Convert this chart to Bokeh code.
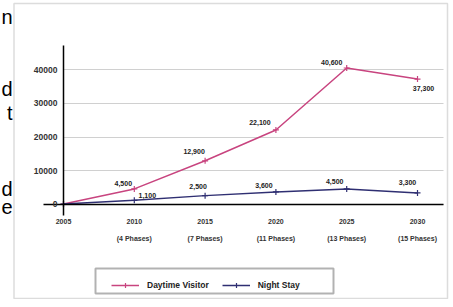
from bokeh.plotting import figure
from bokeh.models import (ColumnDataSource, Legend, LegendItem, Label, BoxAnnotation,
                          FixedTicker, LabelSet, NumeralTickFormatter, Grid)
from bokeh.core.properties import value
from bokeh.embed import file_html
from bokeh.resources import INLINE

categories = ["2005", "2010\n\n(4 Phases)", "2015\n\n(7 Phases)", "2020\n\n(11 Phases)",
              "2025\n\n(13 Phases)", "2030\n\n(15 Phases)"]
daytime = [0, 4500, 12900, 22100, 40600, 37300]
night = [0, 1100, 2500, 3600, 4500, 3300]
y_ticks = [0, 10000, 20000, 30000, 40000]
series_names = ["Daytime Visitor", "Night Stay"]

xs = list(range(len(categories)))

PINK = "#c8447f"
NAVY = "#2f2f72"
FONT = "Liberation Sans"

# the plot frame covers the whole canvas; axes are drawn at x=0 / y=0
X_RANGE = (-0.8898, 5.466)
Y_RANGE = (-28507, 60746)
X_BOUNDS = (-0.2825, 5.367)
Y_BOUNDS = (-3433, 47313)

p = figure(width=450, height=299, x_range=X_RANGE, y_range=Y_RANGE,
           output_backend="svg", toolbar_location=None,
           min_border_left=0, min_border_right=0, min_border_top=0, min_border_bottom=0)
p.outline_line_color = None

src_d = ColumnDataSource(dict(x=xs, y=daytime))
src_n = ColumnDataSource(dict(x=xs, y=night))

p.xgrid.grid_line_color = None
p.ygrid.ticker = FixedTicker(ticks=y_ticks)
p.ygrid.grid_line_color = "#d0d0d0"
if "cross_bounds" in Grid.properties():
    p.ygrid.cross_bounds = (0, X_BOUNDS[1])
p.ygrid.bounds = (Y_BOUNDS[0], Y_BOUNDS[1])

ld = p.line("x", "y", source=src_d, line_color=PINK, line_width=1.5)
md = p.scatter("x", "y", source=src_d, marker="cross", size=6, line_color=PINK, line_width=1.2)
ln = p.line("x", "y", source=src_n, line_color=NAVY, line_width=1.5)
mn = p.scatter("x", "y", source=src_n, marker="cross", size=6, line_color=NAVY, line_width=1.2)

# data labels (skip zero start)
lab_d = ColumnDataSource(dict(x=xs[1:], y=daytime[1:],
                              t=[f"{v:,}" for v in daytime[1:]],
                              dx=[-11, -11, -16, -15, 6], dy=[5, 9, 7, 5, -9]))
lab_n = ColumnDataSource(dict(x=xs[1:], y=night[1:],
                              t=[f"{v:,}" for v in night[1:]],
                              dx=[13, -7, -12, -12, -10], dy=[5, 9, 6, 7, 10]))
for s in (lab_d, lab_n):
    p.add_layout(LabelSet(x="x", y="y", text="t", source=s, x_offset="dx", y_offset="dy",
                          text_font=value(FONT), text_font_size="7px", text_font_style="bold",
                          text_color="#222222", text_align="center", text_baseline="middle"))

p.yaxis.fixed_location = 0
p.yaxis.bounds = Y_BOUNDS
p.yaxis.ticker = FixedTicker(ticks=y_ticks)
p.yaxis.formatter = NumeralTickFormatter(format="0")
p.yaxis.axis_line_color = "#000000"
p.yaxis.axis_line_width = 1.5
p.yaxis.major_tick_line_color = None
p.yaxis.minor_tick_line_color = None
p.yaxis.major_tick_out = 0
p.yaxis.major_tick_in = 0
p.yaxis.major_label_standoff = 6
p.yaxis.major_label_text_font = FONT
p.yaxis.major_label_text_font_size = "8.5px"
p.yaxis.major_label_text_font_style = "bold"
p.yaxis.major_label_text_color = "#333333"

p.xaxis.fixed_location = 0
p.xaxis.bounds = X_BOUNDS
p.xaxis.ticker = FixedTicker(ticks=xs)
p.xaxis.major_label_overrides = {i: c for i, c in zip(xs, categories)}
p.xaxis.axis_line_color = "#000000"
p.xaxis.axis_line_width = 1.5
p.xaxis.major_tick_line_color = None
p.xaxis.minor_tick_line_color = None
p.xaxis.major_tick_out = 0
p.xaxis.major_tick_in = 0
p.xaxis.major_label_standoff = 14
p.xaxis.major_label_text_font = FONT
p.xaxis.major_label_text_font_size = "7px"
p.xaxis.major_label_text_font_style = "bold"
p.xaxis.major_label_text_color = "#333333"

legend = Legend(items=[LegendItem(label=series_names[0], renderers=[ld, md]),
                       LegendItem(label=series_names[1], renderers=[ln, mn])],
                orientation="horizontal", location=(111, 8),
                border_line_color=None, background_fill_color=None,
                label_text_font=FONT, label_text_font_size="8.5px", label_text_font_style="bold",
                label_text_color="#222222", glyph_width=28, glyph_height=12,
                padding=4, spacing=13, margin=0, label_standoff=8)
p.add_layout(legend, "center")

# legend frame and outer chart frame (screen units)
p.add_layout(BoxAnnotation(left=95, right=333, top=31, bottom=6,
                           left_units="screen", right_units="screen",
                           top_units="screen", bottom_units="screen",
                           fill_color=None, line_color="#000000", line_width=2))
p.add_layout(BoxAnnotation(left=13.5, right=447, top=296, bottom=1,
                           left_units="screen", right_units="screen",
                           top_units="screen", bottom_units="screen",
                           fill_color=None, line_color="#8a8a8a", line_width=1.5))

# cut-off page text at the left edge
letters = [("n", 283), ("d", 211), ("t", 187), ("d", 111), ("e", 93)]
for c, yy in letters:
    p.add_layout(Label(x=12, y=yy, x_units="screen", y_units="screen", text=c,
                       text_font=FONT, text_font_size="20px", text_color="#000000",
                       text_align="right", text_baseline="alphabetic"))

open("out.html", "w").write(file_html(p, INLINE))
